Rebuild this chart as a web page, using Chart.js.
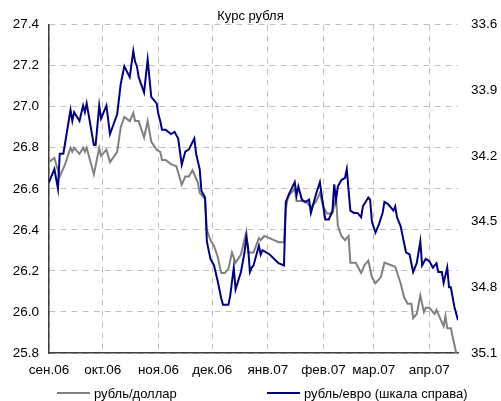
<!DOCTYPE html>
<html>
<head>
<meta charset="utf-8">
<script src="https://cdn.jsdelivr.net/npm/chart.js@4.4.1/dist/chart.umd.min.js"></script>
<style>
  html, body { margin: 0; padding: 0; background: #fff; }
  #wrap { position: relative; width: 501px; height: 401px; overflow: hidden; }
  #legend { position: absolute; left: 0; top: 385px; width: 501px; height: 16px;
            font: 13px 'Liberation Sans', Arial, sans-serif; color: #000; }
  .lg-item { position: absolute; top: 0; height: 16px; display: flex; align-items: center; white-space: nowrap; }
  .lg-line { display: inline-block; width: 33px; height: 2px; margin-right: 4px; }
</style>
</head>
<body>
<div id="wrap">
  <canvas id="c" width="501" height="401"></canvas>
  <div id="legend"></div>
</div>
<script>
// ═══════════════════════════════════════
// DATA  (x = days counted from 1 Sep 2006)
// ═══════════════════════════════════════
const monthStarts = [0, 30, 61, 91, 122, 153, 181, 212];
const monthLabels = ['сен.06', 'окт.06', 'ноя.06', 'дек.06', 'янв.07', 'фев.07', 'мар.07', 'апр.07'];

const usdDays = [0,3,6,7,9,12,13,14,17,19,20,21,25,28,29,32,34,38,40,42,45,47,48,50,53,55,57,60,62,63,
  65,68,71,74,76,78,80,83,84,87,88,90,92,94,96,98,100,102,104,107,110,111,114,117,118,120,123,128,131,132,
  133,134,137,138,141,144,146,149,151,153,155,158,160,161,163,165,167,168,171,174,176,178,180,182,185,187,
  190,193,196,198,200,202,203,205,207,209,210,212,215,216,218,220,221,222,224,227];
const usdRates = [26.73,26.75,26.66,26.68,26.72,26.80,26.78,26.80,26.77,26.80,26.78,26.80,26.67,26.80,26.76,
  26.79,26.73,26.78,26.90,26.95,26.93,26.97,26.93,26.93,26.85,26.93,26.83,26.79,26.78,26.74,
  26.74,26.72,26.71,26.62,26.66,26.66,26.69,26.63,26.58,26.55,26.40,26.35,26.32,26.27,26.19,
  26.19,26.21,26.29,26.24,26.28,26.39,26.29,26.29,26.36,26.35,26.37,26.36,26.34,26.34,26.50,
  26.55,26.57,26.60,26.54,26.54,26.53,26.51,26.54,26.58,26.51,26.48,26.48,26.56,26.42,26.37,
  26.35,26.37,26.24,26.24,26.19,26.23,26.25,26.17,26.14,26.17,26.24,26.23,26.22,26.14,26.07,
  26.04,26.04,25.97,25.99,26.08,26.00,26.02,26.02,25.99,26.01,25.97,25.93,25.98,25.92,25.92,25.80];

const eurDays = [0,3,5,6,8,12,13,14,17,19,20,21,25,26,28,29,32,34,38,39,40,42,45,47,48,49,50,53,55,57,
  60,61,62,63,65,68,70,72,74,76,78,81,82,84,85,87,88,90,92,94,96,97,99,100,101,103,104,107,109,110,
  111,112,113,114,116,117,118,119,123,128,131,132,134,137,138,139,141,143,145,146,149,151,152,154,156,
  158,159,160,161,163,165,166,168,170,172,174,175,178,179,180,182,184,186,187,189,192,193,194,196,198,
  199,201,203,205,207,208,210,212,214,216,217,219,220,222,223,224,226,228];
const eurRates = [34.32,34.26,34.35,34.19,34.19,33.99,34.04,34.00,34.04,33.97,34.00,33.96,34.15,34.15,33.97,
  34.03,33.97,34.10,34.01,33.94,33.87,33.79,33.84,33.72,33.77,33.79,33.84,33.91,33.76,33.93,
  33.96,34.01,34.04,34.08,34.08,34.10,34.09,34.12,34.24,34.18,34.17,34.12,34.19,34.26,34.36,
  34.39,34.59,34.67,34.70,34.77,34.85,34.88,34.88,34.88,34.84,34.71,34.81,34.73,34.64,34.57,
  34.62,34.73,34.71,34.70,34.64,34.61,34.65,34.63,34.65,34.69,34.70,34.41,34.37,34.32,34.38,
  34.34,34.40,34.41,34.40,34.46,34.37,34.32,34.38,34.49,34.49,34.45,34.33,34.40,34.34,34.31,
  34.30,34.26,34.45,34.46,34.46,34.48,34.43,34.39,34.40,34.50,34.55,34.51,34.46,34.41,34.42,
  34.45,34.43,34.48,34.52,34.60,34.64,34.65,34.73,34.69,34.59,34.70,34.67,34.68,34.71,34.69,
  34.73,34.73,34.78,34.71,34.80,34.80,34.89,34.95];

// ═══════════════════════════════════════
// CHART
// ═══════════════════════════════════════
const FONT = "'Liberation Sans', Arial, sans-serif";
const tickFont = { family: FONT, size: 13.5 };
const toPts = (xs, ys) => xs.map((x, i) => ({ x, y: ys[i] }));

const chart = new Chart(document.getElementById('c'), {
  type: 'line',
  data: {
    datasets: [
      { label: 'рубль/доллар', data: toPts(usdDays, usdRates), yAxisID: 'y',
        borderColor: '#808080', borderWidth: 2, pointRadius: 0, tension: 0, order: 2 },
      { label: 'рубль/евро (шкала справа)', data: toPts(eurDays, eurRates), yAxisID: 'y2',
        borderColor: '#000080', borderWidth: 2, pointRadius: 0, tension: 0, order: 1 },
    ],
  },
  options: {
    responsive: false,
    animation: false,
    layout: { padding: 0 },
    plugins: {
      legend: { display: false },
      tooltip: { enabled: false },
      title: { display: true, text: 'Курс рубля', color: '#000',
               font: { family: FONT, size: 13, weight: 'normal' }, padding: { top: 9, bottom: 0 } },
    },
    scales: {
      x: {
        type: 'linear', min: 0, max: 228,
        afterBuildTicks: s => { s.ticks = monthStarts.map(v => ({ value: v })); },
        afterFit: s => { s.height = 48; },
        ticks: { autoSkip: false, maxRotation: 0, padding: 9, color: '#000', font: tickFont,
                 callback: v => monthLabels[monthStarts.indexOf(v)] ?? '' },
        grid: { color: '#c0c0c0', lineWidth: 1, drawTicks: false },
        border: { color: '#404040', width: 1.5, dash: [6, 5] },
      },
      y: {
        position: 'left', min: 25.8, max: 27.4,
        afterFit: s => { s.width = 49; },
        ticks: { stepSize: 0.2, padding: 10, color: '#000', font: tickFont, callback: v => v.toFixed(1) },
        grid: { color: '#c0c0c0', lineWidth: 1, drawTicks: false },
        border: { color: '#404040', width: 1.5, dash: [6, 5] },
      },
      y2: {
        position: 'right', reverse: true, min: 33.6, max: 35.1,
        afterFit: s => { s.width = 43; },
        ticks: { stepSize: 0.3, padding: 13, color: '#000', font: tickFont, callback: v => v.toFixed(1) },
        grid: { display: false, drawTicks: false },
        border: { display: false },
      },
    },
  },
});

// ═══════════════════════════════════════
// LEGEND
// ═══════════════════════════════════════
(function buildLegend() {
  const el = document.getElementById('legend');
  const lefts = [57, 267];
  chart.data.datasets.forEach((ds, i) => {
    const item = document.createElement('div');
    item.className = 'lg-item';
    item.style.left = lefts[i] + 'px';
    item.innerHTML = `<span class="lg-line" style="background:${ds.borderColor}"></span><span>${ds.label}</span>`;
    el.appendChild(item);
  });
})();
</script>
</body>
</html>
